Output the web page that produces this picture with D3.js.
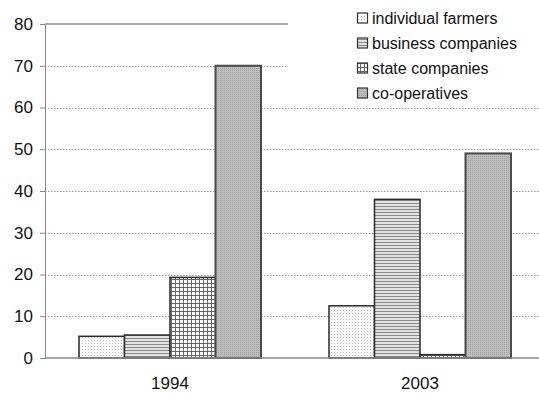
<!DOCTYPE html>
<html>
<head>
<meta charset="utf-8">
<script src="https://cdn.jsdelivr.net/npm/d3@7"></script>
<style>
  html, body { margin: 0; padding: 0; background: #fff; }
  svg { display: block; font-family: Arial, "Liberation Sans", sans-serif; }
</style>
</head>
<body>
<svg id="chart" width="539" height="393"></svg>
<script>
// Farm ownership shares by type, 1994 vs 2003
const years = ["1994", "2003"];
const seriesNames = ["individual farmers", "business companies", "state companies", "co-operatives"];
const individualFarmers = [5.2, 12.5];
const businessCompanies = [5.5, 38.0];
const stateCompanies = [19.3, 0.8];
const coOperatives = [70.0, 49.0];
const yTicks = [0, 10, 20, 30, 40, 50, 60, 70, 80];

const seriesValues = [individualFarmers, businessCompanies, stateCompanies, coOperatives];
const patternIds = ["pat-dots", "pat-hlines", "pat-grid", "pat-coop"];

const svg = d3.select("#chart");
const defs = svg.append("defs");

// fill patterns
const pDots = defs.append("pattern").attr("id", "pat-dots")
  .attr("patternUnits", "userSpaceOnUse").attr("width", 3).attr("height", 3);
pDots.append("rect").attr("width", 3).attr("height", 3).attr("fill", "#fafafa");
pDots.append("rect").attr("x", 1).attr("y", 1).attr("width", 1).attr("height", 1).attr("fill", "#c4c4c4");

const pH = defs.append("pattern").attr("id", "pat-hlines")
  .attr("patternUnits", "userSpaceOnUse").attr("width", 4).attr("height", 3);
pH.append("rect").attr("width", 4).attr("height", 3).attr("fill", "#e2e2e2");
pH.append("rect").attr("y", 2).attr("width", 4).attr("height", 1).attr("fill", "#8a8a8a");

const pG = defs.append("pattern").attr("id", "pat-grid")
  .attr("patternUnits", "userSpaceOnUse").attr("width", 4).attr("height", 4);
pG.append("rect").attr("width", 4).attr("height", 4).attr("fill", "#fff");
pG.append("rect").attr("x", 3).attr("width", 1).attr("height", 4).attr("fill", "#666");
pG.append("rect").attr("y", 3).attr("width", 4).attr("height", 1).attr("fill", "#666");

const pC = defs.append("pattern").attr("id", "pat-coop")
  .attr("patternUnits", "userSpaceOnUse").attr("width", 2).attr("height", 2);
pC.append("rect").attr("width", 2).attr("height", 2).attr("fill", "#bdbdbd");
pC.append("rect").attr("width", 1).attr("height", 1).attr("fill", "#a2a2a2");

// scales
const y = d3.scaleLinear().domain([0, 80]).range([358, 24]);
const x = d3.scaleBand().domain(years).range([45, 545]);
const xInner = d3.scaleBand().domain(seriesNames).range([34, 216]);

// gridlines
const grid = svg.append("g");
grid.selectAll("line.g").data(yTicks.filter(t => t > 0 && t < 80)).join("line")
  .attr("x1", 45).attr("x2", 539)
  .attr("y1", d => Math.round(y(d)) + 0.5).attr("y2", d => Math.round(y(d)) + 0.5)
  .attr("stroke", "#9a9a9a").attr("stroke-width", 1).attr("stroke-dasharray", "1.5,1.5");
grid.append("line")
  .attr("x1", 45).attr("x2", 539)
  .attr("y1", y(80)).attr("y2", y(80))
  .attr("stroke", "#a8a8a8").attr("stroke-width", 2);

// bars
const rows = [];
years.forEach((yr, i) => {
  seriesNames.forEach((s, j) => rows.push({ year: yr, series: s, value: seriesValues[j][i], pat: patternIds[j] }));
});
svg.append("g").selectAll("rect").data(rows).join("rect")
  .attr("x", d => x(d.year) + xInner(d.series))
  .attr("y", d => y(d.value))
  .attr("width", xInner.bandwidth())
  .attr("height", d => y(0) - y(d.value))
  .attr("fill", d => `url(#${d.pat})`)
  .attr("stroke", d => d.series === "co-operatives" ? "#4a4a4a" : "#2a2a2a")
  .attr("stroke-width", d => d.series === "co-operatives" ? 2 : 1.5);

// y axis
const yAxis = svg.append("g").attr("transform", "translate(45,0)")
  .call(d3.axisLeft(y).tickValues(yTicks).tickSize(5).tickPadding(7));
yAxis.select(".domain").attr("stroke", "#888");
yAxis.selectAll(".tick line").attr("stroke", "#888");
yAxis.selectAll(".tick text").attr("fill", "#111").attr("font-size", 17)
  .attr("font-family", "Arial, 'Liberation Sans', sans-serif");

// x baseline and category labels
svg.append("line").attr("x1", 45).attr("x2", 539).attr("y1", y(0)).attr("y2", y(0))
  .attr("stroke", "#888").attr("stroke-width", 1.5);
svg.append("g").selectAll("text").data(years).join("text")
  .attr("x", d => x(d) + x.bandwidth() / 2)
  .attr("y", 389)
  .attr("text-anchor", "middle")
  .attr("font-size", 17)
  .attr("fill", "#111")
  .text(d => d);

// legend
const legend = svg.append("g");
legend.append("rect").attr("x", 288).attr("y", 0).attr("width", 251).attr("height", 100).attr("fill", "#fff");
const li = legend.selectAll("g.item").data(seriesNames).join("g")
  .attr("transform", (d, i) => `translate(357,${18 + i * 25})`);
li.append("rect").attr("x", 0.5).attr("y", -5).attr("width", 10).attr("height", 10)
  .attr("fill", (d, i) => `url(#${patternIds[i]})`)
  .attr("stroke", "#333").attr("stroke-width", 1.2);
li.append("text").attr("x", 15).attr("y", 6)
  .attr("font-size", 16).attr("fill", "#111")
  .text(d => d);
</script>
</body>
</html>
